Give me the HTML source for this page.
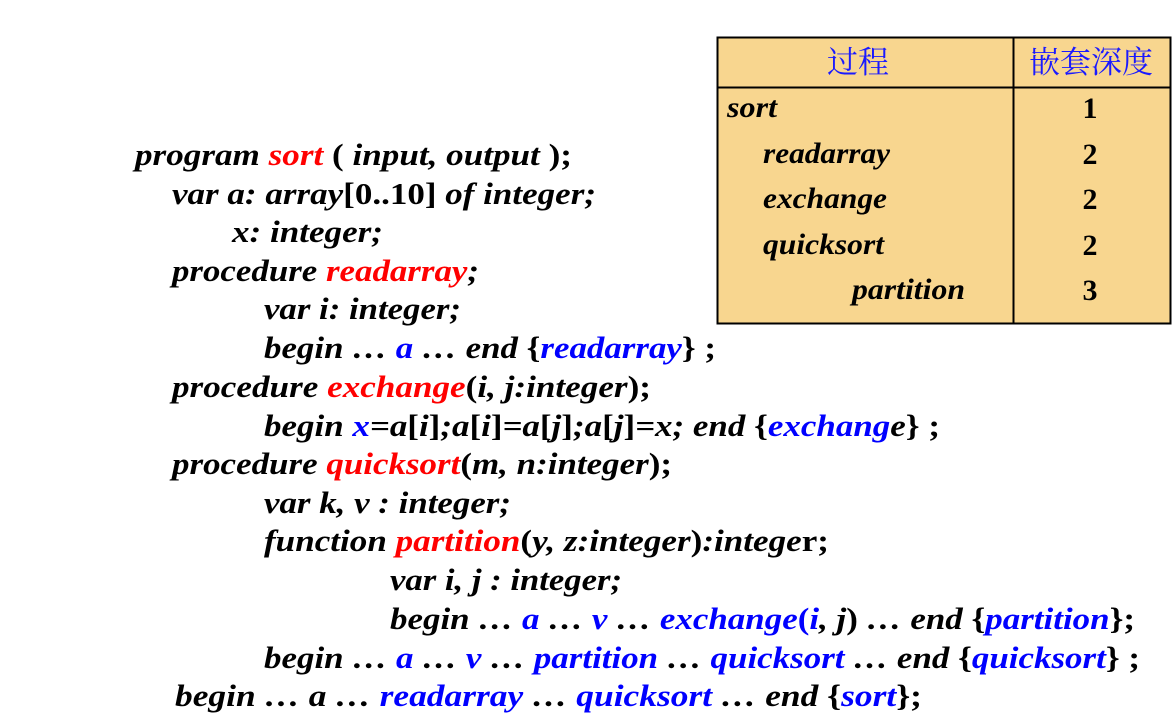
<!DOCTYPE html>
<html><head><meta charset="utf-8"><style>
html,body{margin:0;padding:0;background:#fff;}
svg{display:block;}
text{font-family:"Liberation Serif",serif;font-weight:bold;font-style:italic;font-size:31px;fill:#000;}
.r{fill:#ff0000}.b{fill:#0000ff}.n{font-style:normal}
.t{font-size:30px}
.h{font-family:"Liberation Serif","Noto Serif CJK SC",serif;font-style:normal;font-weight:normal;font-size:31px;fill:#1a1aff}
</style></head><body>
<svg width="1176" height="728" viewBox="0 0 1176 728" xmlns="http://www.w3.org/2000/svg">
<rect x="717.5" y="37.5" width="453" height="286" fill="#F8D68F" stroke="#000" stroke-width="2"/>
<line x1="717" y1="87.5" x2="1170" y2="87.5" stroke="#000" stroke-width="2"/>
<line x1="1013.5" y1="37" x2="1013.5" y2="324" stroke="#000" stroke-width="2"/>
<text class="h" x="858" y="73" text-anchor="middle">过程</text>
<text class="h" x="1091" y="73" text-anchor="middle">嵌套深度</text>
<text class="t" x="727" y="117" textLength="50" lengthAdjust="spacingAndGlyphs">sort</text>
<text class="t" x="763" y="163" textLength="127" lengthAdjust="spacingAndGlyphs">readarray</text>
<text class="t" x="763" y="208" textLength="124" lengthAdjust="spacingAndGlyphs">exchange</text>
<text class="t" x="763" y="254" textLength="121" lengthAdjust="spacingAndGlyphs">quicksort</text>
<text class="t" x="852" y="299" textLength="113" lengthAdjust="spacingAndGlyphs">partition</text>
<text class="t n" x="1090" y="118" text-anchor="middle">1</text>
<text class="t n" x="1090" y="164" text-anchor="middle">2</text>
<text class="t n" x="1090" y="209" text-anchor="middle">2</text>
<text class="t n" x="1090" y="255" text-anchor="middle">2</text>
<text class="t n" x="1090" y="300" text-anchor="middle">3</text>

<text x="135" y="165" textLength="437" lengthAdjust="spacingAndGlyphs">program <tspan class="r">sort</tspan> <tspan class="n">(</tspan> input, output <tspan class="n">);</tspan></text>
<text x="172" y="204" textLength="424" lengthAdjust="spacingAndGlyphs">var a: array<tspan class="n">[0..10]</tspan> of integer;</text>
<text x="232" y="242" textLength="151" lengthAdjust="spacingAndGlyphs">x: integer;</text>
<text x="172" y="281" textLength="307" lengthAdjust="spacingAndGlyphs">procedure <tspan class="r">readarray</tspan>;</text>
<text x="264" y="319" textLength="197" lengthAdjust="spacingAndGlyphs">var i: integer;</text>
<text x="264" y="358" textLength="452" lengthAdjust="spacingAndGlyphs">begin … <tspan class="b">a</tspan> … end <tspan class="n">{</tspan><tspan class="b">readarray</tspan><tspan class="n">} ;</tspan></text>
<text x="172" y="397" textLength="479" lengthAdjust="spacingAndGlyphs">procedure <tspan class="r">exchange</tspan><tspan class="n">(</tspan>i, j:integer<tspan class="n">);</tspan></text>
<text x="264" y="436" textLength="676" lengthAdjust="spacingAndGlyphs">begin <tspan class="b">x</tspan>=a<tspan class="n">[</tspan>i<tspan class="n">]</tspan>;a<tspan class="n">[</tspan>i<tspan class="n">]</tspan>=a<tspan class="n">[</tspan>j<tspan class="n">]</tspan>;a<tspan class="n">[</tspan>j<tspan class="n">]</tspan>=x; end <tspan class="n">{</tspan><tspan class="b">exchang</tspan>e<tspan class="n">} ;</tspan></text>
<text x="172" y="474" textLength="500" lengthAdjust="spacingAndGlyphs">procedure <tspan class="r">quicksort</tspan><tspan class="n">(</tspan>m, n:integer<tspan class="n">);</tspan></text>
<text x="264" y="513" textLength="247" lengthAdjust="spacingAndGlyphs">var k, v : integer;</text>
<text x="264" y="551" textLength="565" lengthAdjust="spacingAndGlyphs">function <tspan class="r">partition</tspan><tspan class="n">(</tspan>y, z:integer<tspan class="n">)</tspan>:intege<tspan class="n">r;</tspan></text>
<text x="390" y="590" textLength="232" lengthAdjust="spacingAndGlyphs">var i, j : integer;</text>
<text x="390" y="629" textLength="745" lengthAdjust="spacingAndGlyphs">begin … <tspan class="b">a</tspan> … <tspan class="b">v</tspan> … <tspan class="b">exchange<tspan class="n">(</tspan>i</tspan>, j<tspan class="n">)</tspan> … end <tspan class="n">{</tspan><tspan class="b">partition</tspan><tspan class="n">};</tspan></text>
<text x="264" y="668" textLength="876" lengthAdjust="spacingAndGlyphs">begin … <tspan class="b">a</tspan> … <tspan class="b">v</tspan> … <tspan class="b">partition</tspan> … <tspan class="b">quicksort</tspan> … end <tspan class="n">{</tspan><tspan class="b">quicksort</tspan><tspan class="n">} ;</tspan></text>
<text x="175" y="706" textLength="747" lengthAdjust="spacingAndGlyphs">begin … a … <tspan class="b">readarray</tspan> … <tspan class="b">quicksort</tspan> … end <tspan class="n">{</tspan><tspan class="b">sort</tspan><tspan class="n">};</tspan></text>
</svg>
</body></html>
